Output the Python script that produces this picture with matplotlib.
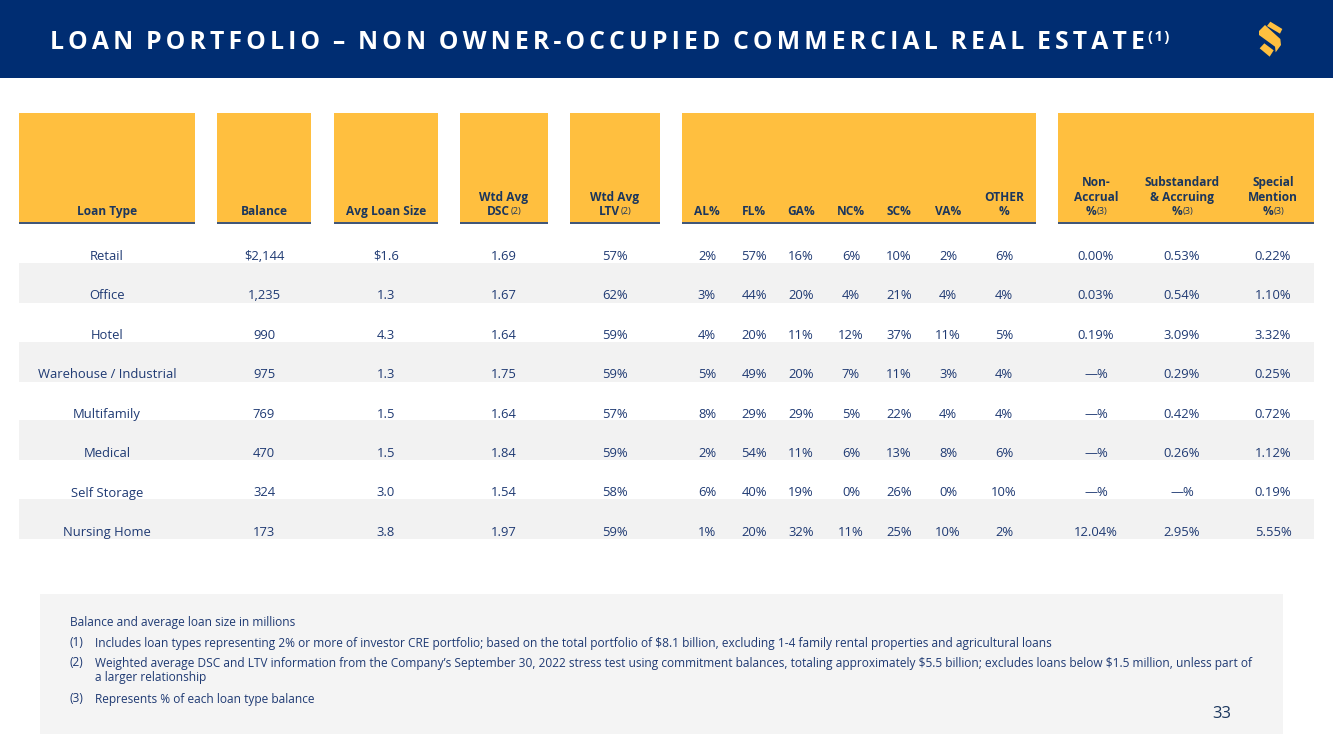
import matplotlib
matplotlib.use("Agg")
import matplotlib.pyplot as plt
from matplotlib.patches import Rectangle, Polygon

plt.rcParams['font.family'] = ['Open Sans', 'DejaVu Sans']
plt.rcParams['text.parse_math'] = False

NAVY = '#002D72'
HEAD = '#1B365D'
GOLD = '#FFBF3F'
STRIPE = '#F2F2F2'
NOTE = '#F4F4F4'
BODY = '#1F3A73'

loan_types = ["Retail", "Office", "Hotel", "Warehouse / Industrial", "Multifamily", "Medical", "Self Storage", "Nursing Home"]
balance = ["$2,144", "1,235", "990", "975", "769", "470", "324", "173"]
avg_size = ["$1.6", "1.3", "4.3", "1.3", "1.5", "1.5", "3.0", "3.8"]
dsc = ["1.69", "1.67", "1.64", "1.75", "1.64", "1.84", "1.54", "1.97"]
ltv = ["57%", "62%", "59%", "59%", "57%", "59%", "58%", "59%"]
al = ["2%", "3%", "4%", "5%", "8%", "2%", "6%", "1%"]
fl = ["57%", "44%", "20%", "49%", "29%", "54%", "40%", "20%"]
ga = ["16%", "20%", "11%", "20%", "29%", "11%", "19%", "32%"]
nc = ["6%", "4%", "12%", "7%", "5%", "6%", "0%", "11%"]
sc = ["10%", "21%", "37%", "11%", "22%", "13%", "26%", "25%"]
va = ["2%", "4%", "11%", "3%", "4%", "8%", "0%", "10%"]
other = ["6%", "4%", "5%", "4%", "4%", "6%", "10%", "2%"]
non_accrual = ["0.00%", "0.03%", "0.19%", "—%", "—%", "—%", "—%", "12.04%"]
substandard = ["0.53%", "0.54%", "3.09%", "0.29%", "0.42%", "0.26%", "—%", "2.95%"]
special = ["0.22%", "1.10%", "3.32%", "0.25%", "0.72%", "1.12%", "0.19%", "5.55%"]

columns = [loan_types, balance, avg_size, dsc, ltv, al, fl, ga, nc, sc, va, other, non_accrual, substandard, special]
headers = [["Loan Type"], ["Balance"], ["Avg Loan Size"], ["Wtd Avg", "DSC|(2)"], ["Wtd Avg", "LTV|(2)"],
           ["AL%"], ["FL%"], ["GA%"], ["NC%"], ["SC%"], ["VA%"], ["OTHER", "%"],
           ["Non-", "Accrual", "%|(3)"], ["Substandard", "& Accruing", "%|(3)"], ["Special", "Mention", "%|(3)"]]
col_x = [107, 264, 386, 504, 615, 707, 754, 801, 851, 899, 948, 1004, 1096, 1182, 1273]
blocks = [(19, 195), (217, 311), (334, 438), (460, 548), (570, 660), (682, 1036), (1058, 1314)]

title = "LOAN PORTFOLIO – NON OWNER-OCCUPIED COMMERCIAL REAL ESTATE"
notes = [
    (70, 622, "Balance and average loan size in millions"),
    (70, 642.5, "(1)"), (95, 642.5, "Includes loan types representing 2% or more of investor CRE portfolio; based on the total portfolio of $8.1 billion, excluding 1-4 family rental properties and agricultural loans"),
    (70, 662.5, "(2)"), (95, 662.5, "Weighted average DSC and LTV information from the Company’s September 30, 2022 stress test using commitment balances, totaling approximately $5.5 billion; excludes loans below $1.5 million, unless part of"),
    (95, 677.5, "a larger relationship"),
    (70, 698.5, "(3)"), (95, 698.5, "Represents % of each loan type balance"),
]

W, H = 1333, 749
fig = plt.figure(figsize=(W / 100, H / 100), dpi=100, facecolor='white')
ax = fig.add_axes([0, 0, 1, 1])
ax.set_xlim(0, W)
ax.set_ylim(H, 0)
ax.axis('off')

ax.add_patch(Rectangle((0, 0), W, 78, fc=NAVY, ec='none'))
GAP = '\u2006'
HS = '\u200a'
spaced = GAP.join(title).replace(f"{GAP} {GAP}", "  ")
t = ax.text(50, 48.8, spaced, color='white', fontsize=17.85, fontweight='bold', va='baseline', ha='left')
r = fig.canvas.get_renderer()
bb = t.get_window_extent(r)
ax.text(bb.x1 + 3, 41.5, HS.join("(1)"), color='white', fontsize=10.5, fontweight='bold', va='baseline', ha='left')

# logo
logo_parts = [
    [(66, 33), (76, 20), (112, 42), (105, 56)],
    [(42, 48), (60, 30), (106, 72), (108, 90), (92, 112), (90, 95), (42, 60)],
    [(44, 100), (58, 85), (86, 106), (74, 125)],
]
for part in logo_parts:
    ax.add_patch(Polygon([(1245 + px / 3, 15 + py / 3) for px, py in part], fc=GOLD, ec='none'))

for x0, x1 in blocks:
    ax.add_patch(Rectangle((x0, 113), x1 - x0, 109, fc=GOLD, ec='none'))
    ax.plot([x0, x1], [222.7, 222.7], color=HEAD, lw=1.2, solid_capstyle='butt')

row_ys = [255.2 + 39.45 * i for i in range(len(loan_types))]
for i, y in enumerate(row_ys):
    if i % 2 == 1:
        ax.add_patch(Rectangle((19, y - 32), 1295, 40, fc=STRIPE, ec='none'))

for x, col, hdr in zip(col_x, columns, headers):
    for y, val in zip(row_ys, col):
        ax.text(x, y + 4.6, val, color=BODY, fontsize=9.4, ha='center', va='baseline')
    for j, line in enumerate(reversed(hdr)):
        y = 215.3 - j * 14.5
        if '|' in line:
            main, sup = line.split('|')
            m = ax.text(x, y, main, color=HEAD, fontsize=8.6, fontweight='bold', ha='right', va='baseline')
            s = ax.text(x, y - 1.5, sup, color=HEAD, fontsize=6.6, ha='left', va='baseline')
            mw = m.get_window_extent(r).width
            sw = s.get_window_extent(r).width
            left = x - (mw + sw) / 2
            m.set_x(left + mw)
            s.set_x(left + mw + 0.3)
        else:
            ax.text(x, y, line, color=HEAD, fontsize=8.6, fontweight='bold', ha='center', va='baseline')

ax.add_patch(Rectangle((40, 594), 1243, 140, fc=NOTE, ec='none'))
for x, y, s in notes:
    ax.text(x, y + 4, s, color=BODY, fontsize=8.55, ha='left', va='baseline')
ax.text(1222, 714, "33", color=HEAD, fontsize=12, ha='center', va='center')

fig.savefig('out.png', dpi=100, facecolor='white')
